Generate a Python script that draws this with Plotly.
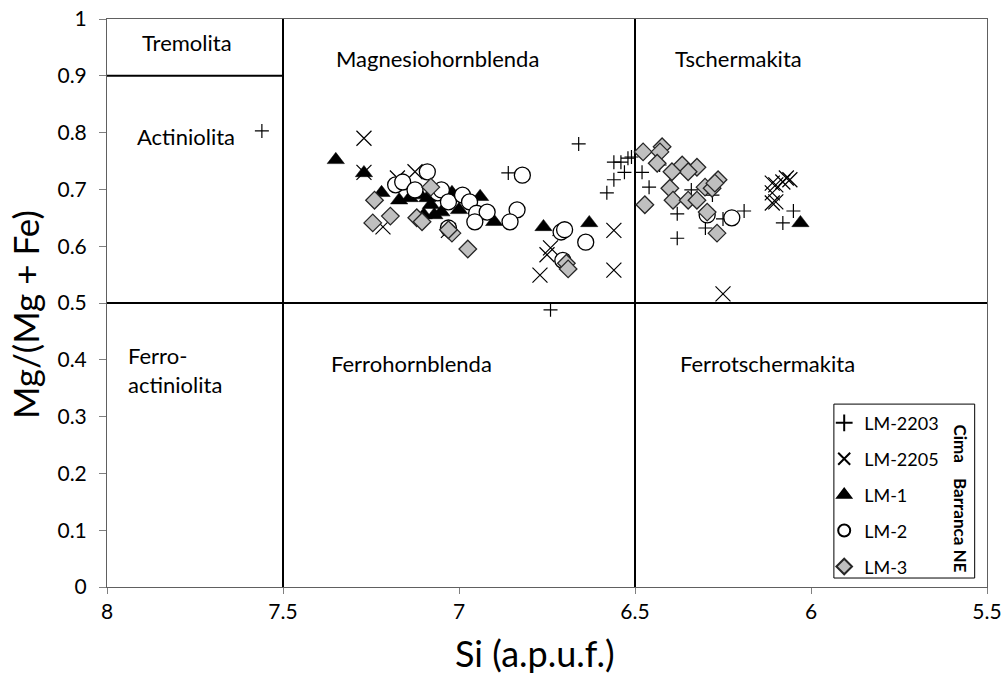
import plotly.graph_objects as go

# ---------------- data ----------------
lm2203_si = [7.56, 6.66, 6.86, 6.74, 6.56, 6.54, 6.52, 6.51, 6.53, 6.56, 6.58, 6.48, 6.46, 6.43,
             6.34, 6.28, 6.38, 6.38, 6.30, 6.25, 6.19, 6.08, 6.05]
lm2203_mg = [0.803, 0.780, 0.729, 0.488, 0.748, 0.748, 0.755, 0.757, 0.730, 0.717, 0.694, 0.730,
             0.704, 0.743, 0.699, 0.690, 0.657, 0.614, 0.632, 0.648, 0.662, 0.641, 0.662]

lm2205_si = [7.27, 7.27, 7.125, 7.175, 7.216, 7.03, 6.74, 6.75, 6.77, 6.56, 6.56, 6.25,
             6.11, 6.10, 6.08, 6.07, 6.06, 6.11, 6.11, 6.10]
lm2205_mg = [0.790, 0.730, 0.731, 0.720, 0.634, 0.628, 0.597, 0.585, 0.549, 0.628, 0.558, 0.516,
             0.694, 0.708, 0.713, 0.720, 0.717, 0.711, 0.676, 0.678]

lm1_si = [7.35, 7.27, 7.22, 7.17, 7.14, 7.11, 7.09, 7.08, 7.10, 7.07, 7.05, 7.02, 7.00, 6.94,
          6.90, 6.76, 6.71, 6.63, 6.03]
lm1_mg = [0.752, 0.729, 0.694, 0.681, 0.685, 0.690, 0.685, 0.673, 0.655, 0.655, 0.660, 0.694,
          0.664, 0.687, 0.643, 0.634, 0.625, 0.641, 0.641]

lm2_si = [7.09, 7.18, 7.16, 7.125, 7.06, 7.05, 7.03, 6.99, 6.97, 6.95, 6.92, 6.955, 7.03,
          6.82, 6.835, 6.855, 6.71, 6.70, 6.64, 6.705, 6.295, 6.225]
lm2_mg = [0.731, 0.708, 0.713, 0.699, 0.694, 0.699, 0.678, 0.690, 0.678, 0.658, 0.660, 0.643,
          0.632, 0.725, 0.664, 0.643, 0.625, 0.629, 0.607, 0.575, 0.655, 0.650]

lm3_si = [7.24, 7.245, 7.195, 7.12, 7.105, 7.08, 7.02, 6.975, 7.03, 6.695, 6.69,
          6.477, 6.423, 6.429, 6.437, 6.366, 6.324, 6.349, 6.395, 6.401, 6.392, 6.349, 6.324,
          6.301, 6.281, 6.264, 6.273, 6.295, 6.267, 6.472]
lm3_mg = [0.681, 0.641, 0.653, 0.650, 0.643, 0.704, 0.623, 0.595, 0.629, 0.570, 0.560,
          0.766, 0.775, 0.766, 0.746, 0.743, 0.739, 0.731, 0.731, 0.702, 0.681, 0.681, 0.681,
          0.704, 0.702, 0.717, 0.711, 0.660, 0.623, 0.673]

x_ticks = [8, 7.5, 7, 6.5, 6, 5.5]
y_ticks = [0, 0.1, 0.2, 0.3, 0.4, 0.5, 0.6, 0.7, 0.8, 0.9, 1]
x_title = "Si (a.p.u.f.)"
y_title = "Mg/(Mg + Fe)"

# classification field boundaries (Si, Mg#) segments
boundaries = [((7.5, 0), (7.5, 1)), ((6.5, 0), (6.5, 1)), ((8, 0.5), (5.5, 0.5)), ((8, 0.9), (7.5, 0.9))]
# field names: (text, Si, Mg#, align)
fields = [("Tremolita", 7.773, 0.958, "center"),
          ("Actiniolita", 7.776, 0.794, "center"),
          ("Magnesiohornblenda", 7.06, 0.930, "center"),
          ("Tschermakita", 6.207, 0.931, "center"),
          ("Ferro-<br>actiniolita", 7.945, 0.382, "left"),
          ("Ferrohornblenda", 7.134, 0.393, "center"),
          ("Ferrotschermakita", 6.125, 0.393, "center")]

FONT = "Lato, 'Open Sans', sans-serif"

fig = go.Figure()
series = [
    ("LM-2203", lm2203_si, lm2203_mg, dict(symbol="cross-thin", size=10, color="black",
                                           line=dict(color="black", width=1.2))),
    ("LM-2205", lm2205_si, lm2205_mg, dict(symbol="x-thin", size=15, color="black",
                                           line=dict(color="black", width=1.2))),
    ("LM-1", lm1_si, lm1_mg, dict(symbol="triangle-up", size=15, color="black",
                                  line=dict(color="black", width=0.5))),
    ("LM-2", lm2_si, lm2_mg, dict(symbol="circle", size=16, color="white",
                                  line=dict(color="black", width=1.3))),
    ("LM-3", lm3_si, lm3_mg, dict(symbol="diamond", size=13.5, color="#bfbfbf",
                                  line=dict(color="#262626", width=1.3))),
]
for name, xs, ys, mk in series:
    fig.add_trace(go.Scatter(x=xs, y=ys, mode="markers", name=name, marker=mk,
                             legendgroup=name))

for (x0, y0), (x1, y1) in boundaries:
    fig.add_shape(type="line", x0=x0, y0=y0, x1=x1, y1=y1, xref="x", yref="y",
                  line=dict(color="black", width=2), layer="below")

for txt, sx, my, al in fields:
    fig.add_annotation(x=sx, y=my, xref="x", yref="y", text=txt, showarrow=False,
                       xanchor="left" if al == "left" else "center", yanchor="middle", align=al,
                       font=dict(family=FONT, size=22, color="black"))

# axis titles
fig.add_annotation(xref="paper", yref="paper", x=0.486, y=-0.117, text=x_title,
                   xanchor="center", yanchor="middle", showarrow=False,
                   font=dict(family=FONT, size=36, color="black"))
fig.add_annotation(xref="paper", yref="paper", x=-0.093, y=0.479, text=y_title,
                   xanchor="center", yanchor="middle", textangle=-90, showarrow=False,
                   font=dict(family=FONT, size=35, color="black"))

# legend frame and group labels
fig.add_shape(type="rect", xref="paper", yref="paper", x0=0.826, x1=0.986, y0=0.0158, y1=0.322,
              line=dict(color="black", width=1), fillcolor="white", layer="below")
fig.add_annotation(xref="paper", yref="paper", x=0.970, y=0.2535, text="<b>Cima</b>",
                   xanchor="center", yanchor="middle",
                   textangle=90, showarrow=False, font=dict(family=FONT, size=17, color="black"))
fig.add_annotation(xref="paper", yref="paper", x=0.970, y=0.108, text="<b>Barranca NE</b>",
                   xanchor="center", yanchor="middle",
                   textangle=90, showarrow=False, font=dict(family=FONT, size=17, color="black"))

fig.update_layout(
    width=1006, height=674,
    margin=dict(l=107, r=19, t=19, b=87, autoexpand=False),
    paper_bgcolor="white", plot_bgcolor="white",
    font=dict(family=FONT, color="black"),
    showlegend=True,
    legend=dict(x=0.815, y=0.321, xanchor="left", yanchor="top",
                bgcolor="rgba(0,0,0,0)", borderwidth=0,
                font=dict(family=FONT, size=18, color="black"),
                itemsizing="constant", tracegroupgap=9.5, traceorder="grouped"),
    xaxis=dict(range=[8, 5.5], tickvals=x_ticks, ticktext=[str(v) for v in x_ticks],
               showgrid=False, zeroline=False, showline=True, linecolor="#606060", linewidth=1,
               mirror=True, ticks="outside", ticklen=6, tickcolor="#808080", automargin=False,
               tickfont=dict(family=FONT, size=21, color="black")),
    yaxis=dict(range=[0, 1], tickvals=y_ticks, ticktext=[f"{v:g}" for v in y_ticks],
               showgrid=False, zeroline=False, showline=True, linecolor="#606060", linewidth=1,
               mirror=True, ticks="outside", ticklen=7, tickcolor="#808080", automargin=False,
               tickfont=dict(family=FONT, size=21, color="black"),
               ticklabelstandoff=8),
)

fig.write_html("out.html")
